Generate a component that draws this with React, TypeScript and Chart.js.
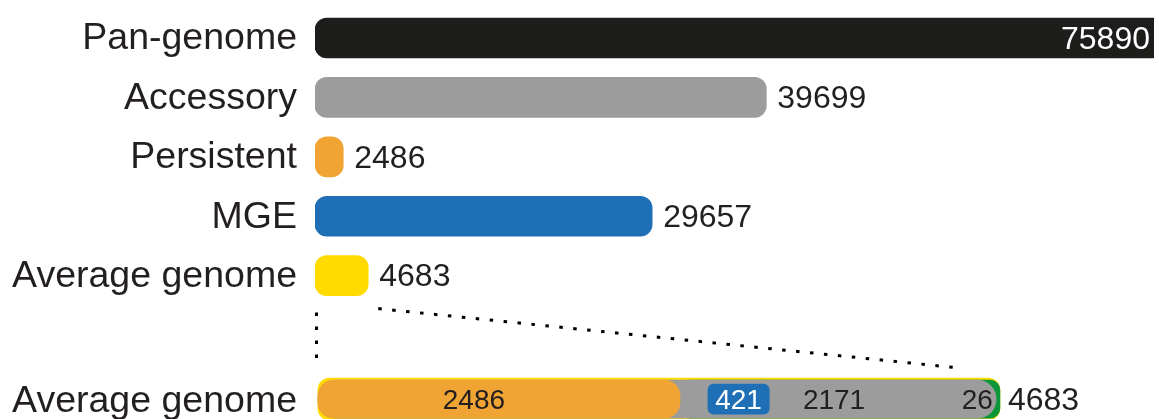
import React, { useEffect, useRef } from 'react';
import { Chart, registerables } from 'chart.js';

Chart.register(...registerables);

// ---- data ----
const categories = ['Pan-genome', 'Accessory', 'Persistent', 'MGE', 'Average genome'];
const geneCounts = [75890, 39699, 2486, 29657, 4683];
const barColors = ['#1d1d1b', '#9c9c9c', '#efa433', '#1f6fb6', '#ffdb00'];
const rowPositions = [0, 1, 2, 3, 4];

const detailLabel = 'Average genome';
const detailRow = 6.08;
const avgTotal = 4683;
const avgPartNames = ['Persistent', 'MGE', 'Accessory', 'Other'];
const avgPartValues = [2486, 421, 2171, 26];
const avgPartColors = ['#efa433', '#1f6fb6', '#9c9c9c', '#0a9639'];
const mgeStart = 2678; // where the MGE block sits inside the accessory part

const topAxisMax = 73800;
const detailAxisMin = -20;
const detailAxisMax = 5741;
const rowAxisMin = -0.64;
const rowAxisMax = 6.414;

const FONT = '"Liberation Sans", Arial, Helvetica, sans-serif';
const TEXT = '#231f20';

const annotate = {
  id: 'annotate',
  afterDatasetsDraw(chart: any) {
    const { ctx, scales } = chart;
    const x = scales.x;
    const x2 = scales.x2;
    const y = scales.y;
    ctx.save();
    ctx.textBaseline = 'middle';

    // category labels
    ctx.font = `37.5px ${FONT}`;
    ctx.fillStyle = TEXT;
    ctx.textAlign = 'right';
    categories.forEach((c, i) => {
      ctx.fillText(c, x.left - 18, y.getPixelForValue(rowPositions[i]) + 1);
    });
    ctx.fillText(detailLabel, x.left - 18, y.getPixelForValue(detailRow) + 2);

    // value labels for top bars
    ctx.font = `32px ${FONT}`;
    geneCounts.forEach((v, i) => {
      const py = y.getPixelForValue(rowPositions[i]) + 2;
      const end = x.getPixelForValue(v);
      if (end > x.right - 2) {
        ctx.fillStyle = '#ffffff';
        ctx.textAlign = 'right';
        ctx.fillText(String(v), x.right - 4, py);
      } else {
        ctx.fillStyle = TEXT;
        ctx.textAlign = 'left';
        ctx.fillText(String(v), end + 11, py);
      }
    });

    // detail bar labels
    const yd = y.getPixelForValue(detailRow) + 2;
    const persEnd = avgPartValues[0];
    const accEnd = avgPartValues[0] + avgPartValues[2];
    const totEnd = accEnd + avgPartValues[3];
    ctx.font = `28px ${FONT}`;
    ctx.textAlign = 'center';
    ctx.fillStyle = TEXT;
    ctx.fillText(String(avgPartValues[0]), (x2.getPixelForValue(0) + x2.getPixelForValue(persEnd)) / 2 - 25, yd);
    ctx.fillStyle = '#ffffff';
    ctx.fillText(
      String(avgPartValues[1]),
      (x2.getPixelForValue(mgeStart) + x2.getPixelForValue(mgeStart + avgPartValues[1])) / 2,
      yd
    );
    ctx.fillStyle = TEXT;
    ctx.fillText(String(avgPartValues[2]), (x2.getPixelForValue(persEnd) + x2.getPixelForValue(accEnd)) / 2 - 4, yd);
    ctx.textAlign = 'right';
    ctx.fillText(String(avgPartValues[3]), x2.getPixelForValue(totEnd) - 7, yd);
    ctx.font = `32px ${FONT}`;
    ctx.textAlign = 'left';
    ctx.fillText(String(avgTotal), x2.getPixelForValue(avgTotal) + 8, yd);

    // dotted zoom lines
    const yAvg = y.getPixelForValue(rowPositions[4]);
    const yDet = y.getPixelForValue(detailRow);
    ctx.strokeStyle = '#000000';
    ctx.lineWidth = 3;
    ctx.setLineDash([3.5, 10.5]);
    ctx.beginPath();
    ctx.moveTo(x.getPixelForValue(0) + 1.5, yAvg + 37);
    ctx.lineTo(x.getPixelForValue(0) + 1.5, yDet - 38);
    ctx.stroke();
    ctx.beginPath();
    ctx.moveTo(x.getPixelForValue(geneCounts[4]) + 10, yAvg + 33);
    ctx.lineTo(x2.getPixelForValue(avgTotal) - 39, yDet - 31);
    ctx.stroke();
    ctx.restore();
  },
};

export default function App() {
  const ref = useRef<HTMLCanvasElement>(null);

  useEffect(() => {
    document.body.style.margin = '0';
    if (!ref.current) return;
    const persEnd = avgPartValues[0];
    const accEnd = avgPartValues[0] + avgPartValues[2];
    const totEnd = accEnd + avgPartValues[3];

    const chart = new Chart(ref.current, {
      type: 'bar',
      data: {
        datasets: [
          {
            label: avgPartNames[1],
            xAxisID: 'x2',
            data: [{ x: [mgeStart, mgeStart + avgPartValues[1]], y: detailRow }],
            backgroundColor: avgPartColors[1],
            barThickness: 30,
            borderRadius: 6,
            borderSkipped: false,
            grouped: false,
            order: 0,
          },
          {
            label: avgPartNames[0],
            xAxisID: 'x2',
            data: [{ x: [0, persEnd], y: detailRow }],
            backgroundColor: avgPartColors[0],
            barThickness: 38,
            borderRadius: 16,
            borderSkipped: false,
            grouped: false,
            order: 1,
          },
          {
            label: avgPartNames[2],
            xAxisID: 'x2',
            data: [{ x: [0, accEnd], y: detailRow }],
            backgroundColor: avgPartColors[2],
            barThickness: 38,
            borderRadius: 19,
            borderSkipped: false,
            grouped: false,
            order: 2,
          },
          {
            label: avgPartNames[3],
            xAxisID: 'x2',
            data: [{ x: [persEnd, totEnd], y: detailRow }],
            backgroundColor: avgPartColors[3],
            barThickness: 38,
            borderRadius: 10,
            borderSkipped: false,
            grouped: false,
            order: 3,
          },
          {
            label: detailLabel,
            xAxisID: 'x2',
            data: [{ x: [0, avgTotal], y: detailRow }],
            backgroundColor: barColors[4],
            barThickness: 42,
            borderRadius: 12,
            borderSkipped: false,
            grouped: false,
            order: 4,
          },
          {
            label: 'Genes',
            xAxisID: 'x',
            data: geneCounts.map((v, i) => ({ x: v, y: rowPositions[i] })),
            backgroundColor: barColors,
            barThickness: 40,
            borderRadius: 12,
            borderSkipped: false,
            grouped: false,
            order: 5,
          },
        ] as any,
      },
      options: {
        indexAxis: 'y',
        animation: false,
        responsive: false,
        maintainAspectRatio: false,
        layout: { padding: { left: 315, right: 5, top: 0, bottom: 0 } },
        plugins: { legend: { display: false }, tooltip: { enabled: false } },
        scales: {
          x: { type: 'linear', display: false, min: 0, max: topAxisMax, offset: false },
          x2: { type: 'linear', axis: 'x', display: false, min: detailAxisMin, max: detailAxisMax, offset: false },
          y: {
            type: 'linear',
            display: false,
            reverse: true,
            min: rowAxisMin,
            max: rowAxisMax,
            offset: false,
            grace: 0,
          },
        },
      } as any,
      plugins: [annotate],
    });
    return () => chart.destroy();
  }, []);

  return (
    <div style={{ width: 1159, height: 419, overflow: 'hidden', background: '#ffffff' }}>
      <canvas ref={ref} width={1159} height={419} style={{ display: 'block' }} />
    </div>
  );
}
